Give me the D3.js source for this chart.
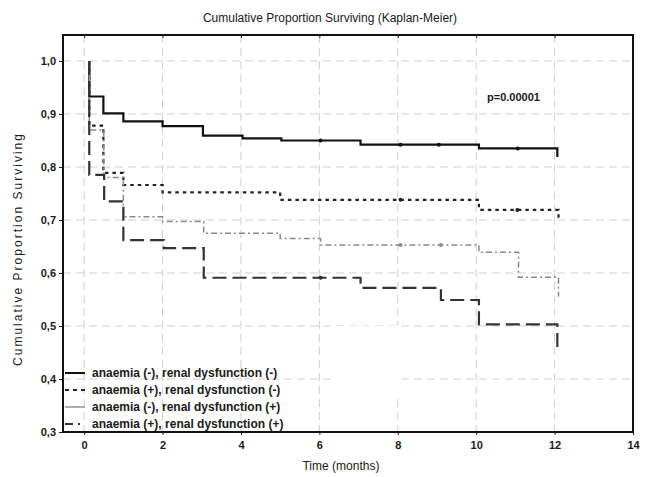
<!DOCTYPE html>
<html lang="en"><head>
<meta charset="utf-8">
<title>Kaplan-Meier</title>
<script src="https://cdn.jsdelivr.net/npm/d3@7"></script>
<style>
  body { margin: 0; background: #fff; }
  text { font-family: "Liberation Sans", Arial, sans-serif; fill: #1a1a1a; }
</style>
</head>
<body>
<script type="text/javascript">

var width = 648;
var height = 477;
var margin = {top: 35, right: 15, bottom: 45, left: 63};

// step curves: time of each step and survival from that time on
var times1 = [0.13, 0.13, 0.49, 1.0, 2.0, 3.03, 4.04, 5.03, 7.05, 10.07, 12.07];
var surv1  = [1.0, 0.933, 0.901, 0.886, 0.877, 0.859, 0.854, 0.850, 0.842, 0.835, 0.819];
var times2 = [0.13, 0.13, 0.49, 1.0, 2.0, 5.0, 10.07, 12.1];
var surv2  = [1.0, 0.878, 0.789, 0.766, 0.752, 0.738, 0.719, 0.70];
var times3 = [0.13, 0.13, 0.5, 1.0, 2.0, 3.05, 5.0, 6.03, 10.07, 11.08, 12.1];
var surv3  = [1.0, 0.87, 0.78, 0.706, 0.697, 0.675, 0.665, 0.653, 0.639, 0.592, 0.555];
var times4 = [0.13, 0.13, 0.51, 1.0, 2.03, 3.05, 7.05, 9.1, 10.07, 12.07];
var surv4  = [1.0, 0.785, 0.735, 0.662, 0.647, 0.591, 0.572, 0.549, 0.503, 0.458];

// censored observations (times)
var cens1 = [6.03, 8.07, 9.05, 11.06];
var cens2 = [8.07, 11.05];
var cens3 = [8.07, 9.1];
var cens4 = [6.03];

var labels = ["anaemia (-), renal dysfunction (-)", "anaemia (+), renal dysfunction (-)",
              "anaemia (-), renal dysfunction (+)", "anaemia (+), renal dysfunction (+)"];
var xTicks = [0, 2, 4, 6, 8, 10, 12, 14];
var yTicks = [0.3, 0.4, 0.5, 0.6, 0.7, 0.8, 0.9, 1.0];

var styles = [
  {stroke: "#111", width: 2.2, dash: null},
  {stroke: "#222", width: 2.2, dash: "3.5,4"},
  {stroke: "#8a8a8a", width: 1.5, dash: "6,3,2,3"},
  {stroke: "#333", width: 2.2, dash: "14,6"}
];

var series = [
  {t: times1, s: surv1, c: cens1},
  {t: times2, s: surv2, c: cens2},
  {t: times3, s: surv3, c: cens3},
  {t: times4, s: surv4, c: cens4}
];

var svg = d3.select("body").append("svg")
  .attr("width", width)
  .attr("height", height);

var x = d3.scaleLinear().domain([-0.54, 14]).range([margin.left, width - margin.right]);
var y = d3.scaleLinear().domain([0.3, 1.049]).range([height - margin.bottom, margin.top]);

// grid
svg.append("g").selectAll("line").data(xTicks.slice(0, -1)).enter().append("line")
  .attr("x1", d => x(d)).attr("x2", d => x(d))
  .attr("y1", y.range()[1]).attr("y2", y.range()[0])
  .attr("stroke", "#cfcfcf").attr("stroke-dasharray", "8,5").attr("stroke-width", 1);
svg.append("g").selectAll("line").data(yTicks.slice(1)).enter().append("line")
  .attr("x1", x.range()[0]).attr("x2", x.range()[1])
  .attr("y1", d => y(d)).attr("y2", d => y(d))
  .attr("stroke", "#cfcfcf").attr("stroke-dasharray", "8,5").attr("stroke-width", 1);

// blank patch in the original scan
svg.append("rect").attr("x", x(6.4)).attr("y", y(0.5)).attr("width", x(8.1) - x(6.4)).attr("height", y(0.37) - y(0.5))
  .attr("fill", "#fff");

// axes
var fmt = d => d3.format(".1f")(d).replace(".", ",");
svg.append("g")
  .attr("transform", "translate(" + margin.left + ",0)")
  .call(d3.axisLeft(y).tickValues(yTicks).tickSize(4).tickFormat(fmt))
  .call(g => g.select(".domain").remove())
  .call(g => g.selectAll("text").attr("font-size", 11).attr("font-weight", "bold").attr("fill", "#333").attr("x", -7))
  .call(g => g.selectAll("line").attr("stroke", "#222"));
svg.append("g")
  .attr("transform", "translate(0," + (height - margin.bottom) + ")")
  .call(d3.axisBottom(x).tickValues(xTicks).tickSize(3).tickFormat(d3.format("d")))
  .call(g => g.select(".domain").remove())
  .call(g => g.selectAll("text").attr("font-size", 11).attr("font-weight", "bold").attr("fill", "#333").attr("y", 9))
  .call(g => g.selectAll("line").attr("stroke", "#222"));
svg.append("g")
  .attr("transform", "translate(0," + margin.top + ")")
  .call(d3.axisBottom(x).tickValues(xTicks).tickSize(3).tickFormat(""))
  .call(g => g.select(".domain").remove())
  .call(g => g.selectAll("line").attr("stroke", "#222"));

// curves
var line = d3.line().curve(d3.curveStepAfter).x(d => x(d[0])).y(d => y(d[1]));
series.forEach(function(sr, i) {
  var pts = sr.t.map((t, j) => [t, sr.s[j]]);
  svg.append("path")
    .attr("d", line(pts))
    .attr("fill", "none")
    .attr("stroke", styles[i].stroke)
    .attr("stroke-width", styles[i].width)
    .attr("stroke-dasharray", styles[i].dash);
  sr.c.forEach(function(ct) {
    var k = d3.bisectRight(sr.t, ct) - 1;
    svg.append("circle")
      .attr("cx", x(ct)).attr("cy", y(sr.s[k]))
      .attr("r", 2).attr("fill", styles[i].stroke);
  });
});

// frame
svg.append("rect")
  .attr("x", margin.left).attr("y", margin.top)
  .attr("width", width - margin.left - margin.right)
  .attr("height", height - margin.top - margin.bottom)
  .attr("fill", "none").attr("stroke", "#111").attr("stroke-width", 2);

// legend
var lg = svg.append("g");
labels.forEach(function(l, i) {
  var yy = 373 + i * 17;
  lg.append("line")
    .attr("x1", margin.left + 2).attr("x2", margin.left + 22)
    .attr("y1", yy).attr("y2", yy)
    .attr("stroke", styles[i].stroke).attr("stroke-width", styles[i].width > 2 ? 2 : 1.4)
    .attr("stroke-dasharray", i == 1 ? "4,4" : (i == 3 ? "8,5,2,5" : null));
  lg.append("text")
    .attr("x", margin.left + 29).attr("y", yy + 4)
    .attr("font-size", 12).attr("font-weight", "bold").attr("fill", "#333")
    .text(l);
});

// texts
svg.append("text").attr("x", 330).attr("y", 22).attr("text-anchor", "middle")
  .attr("font-size", 12).text("Cumulative Proportion Surviving (Kaplan-Meier)");
svg.append("text").attr("transform", "translate(22,250) rotate(-90)")
  .attr("text-anchor", "middle").attr("font-size", 12)
  .attr("textLength", 232).attr("lengthAdjust", "spacing")
  .text("Cumulative Proportion Surviving");
svg.append("text").attr("x", x(6.55)).attr("y", 470).attr("text-anchor", "middle")
  .attr("font-size", 12).text("Time (months)");
svg.append("text").attr("x", 487).attr("y", 101)
  .attr("font-size", 11).attr("font-weight", "bold").attr("fill", "#333").text("p=0.00001");

</script>
</body>
</html>
